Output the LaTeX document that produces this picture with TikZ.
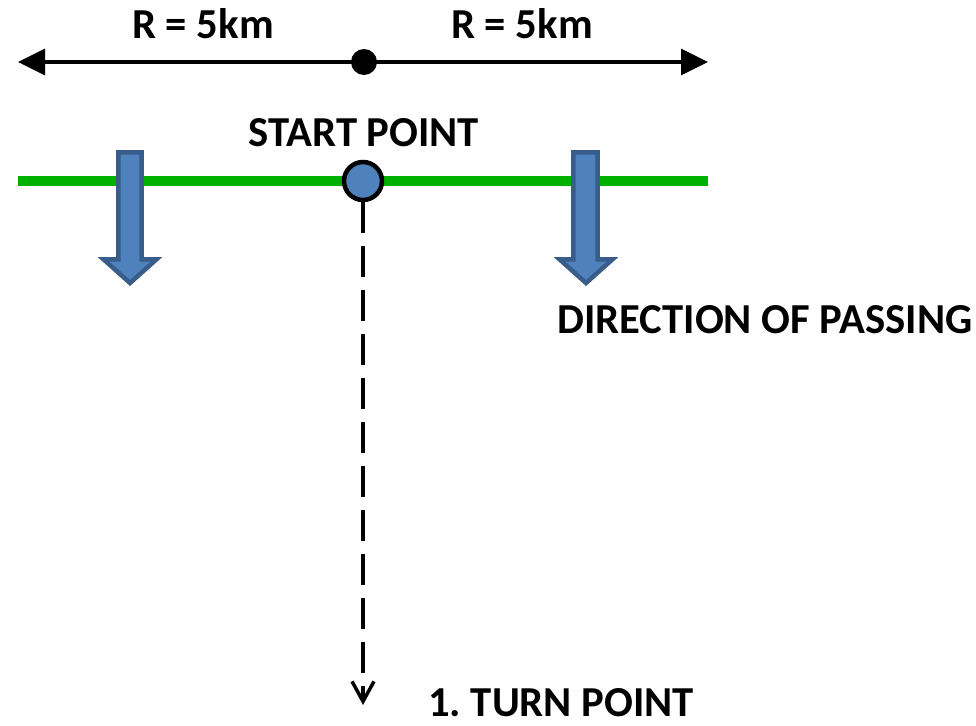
\documentclass[tikz,border=0pt]{standalone}
\usepackage{fontspec}
\setmainfont{Carlito}
\usetikzlibrary{arrows.meta}
\definecolor{arrfill}{HTML}{4F81BD}
\definecolor{arrline}{HTML}{385D8A}
\definecolor{lgreen}{HTML}{00B000}
\tikzset{
  lbl/.style={inner sep=0pt, font=\fontsize{42.7}{50}\selectfont\bfseries\frenchspacing},
  blockarrow/.style={fill=arrfill, draw=arrline, line width=4.5pt, line join=miter},
  dimline/.style={line width=3.2pt, {Triangle[length=27pt,width=26pt]}-{Triangle[length=27pt,width=26pt]}},
}
\begin{document}
\begin{tikzpicture}[x=1pt,y=-1pt]
\useasboundingbox (0,0) rectangle (976,725);
% top dimension line
\coordinate (L) at (18,62);
\coordinate (R) at (708,62);
\node[circle, fill=black, minimum size=26pt, inner sep=0pt] (mid) at (364,62) {};
\draw[dimline] (L) -- (R);
\node[lbl, anchor=base] (r1) at (203,39) {R = 5km};
\node[lbl, anchor=base] (r2) at (522,39) {R = 5km};
% green line
\coordinate (gl) at (18,181);
\coordinate (gr) at (708,181);
\draw[lgreen, line width=10pt] (gl) -- (gr);
% block arrows
\draw[blockarrow] (118.3,152.3) -- (141.7,152.3) -- (141.7,259.3) -- (156.5,259.3) -- (130,283) -- (103.5,259.3) -- (118.3,259.3) -- cycle;
\draw[blockarrow] (573.3,152.3) -- (597.7,152.3) -- (597.7,259.3) -- (612.5,259.3) -- (586,283) -- (559.5,259.3) -- (573.3,259.3) -- cycle;
% start point
\node[circle, fill=arrfill, draw=black, line width=4.5pt, minimum size=38pt, inner sep=0pt] (start) at (363,181) {};
\node[lbl, anchor=base] (st) at (364,146) {START POINT};
% dashed path to turn point
\coordinate (tp) at (363,705);
\draw[line width=3.5pt, dash pattern=on 31pt off 13pt, -{Straight Barb[length=20pt,width=22pt,line width=3.5pt]}] (start.south) -- (tp);
\node[lbl, anchor=base west] (dir) at (557,333) {DIRECTION OF PASSING};
\node[lbl, anchor=base west] (turn) at (428,716) {1. TURN POINT};
\end{tikzpicture}
\end{document}
